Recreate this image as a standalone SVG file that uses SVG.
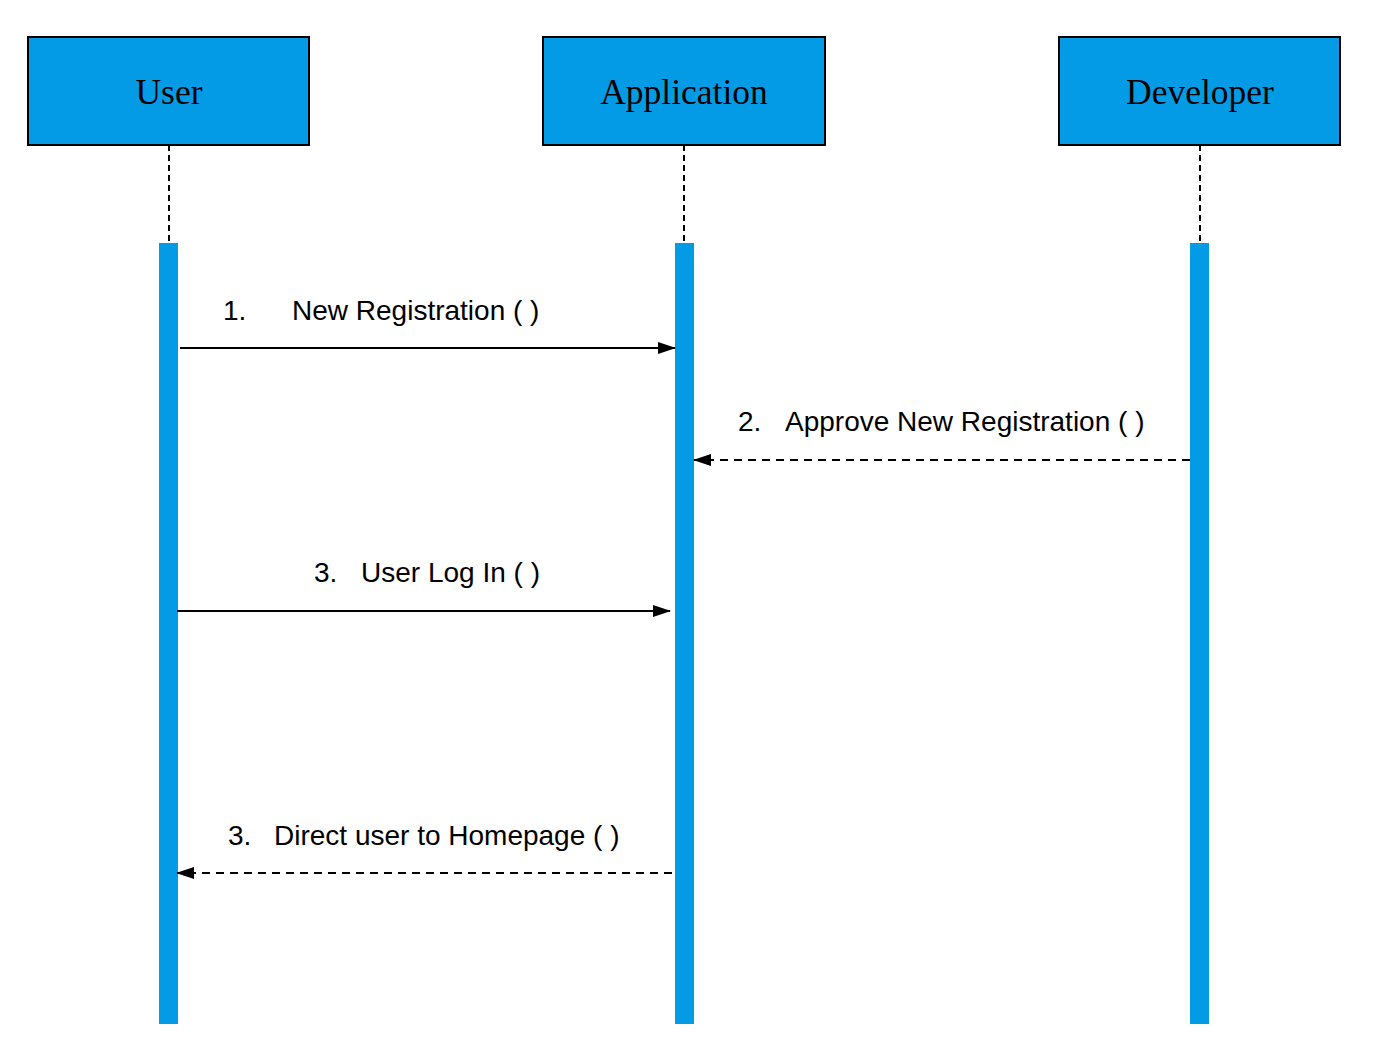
<svg xmlns="http://www.w3.org/2000/svg" width="1385" height="1050" viewBox="0 0 1385 1050">
<style>
.box{fill:#039BE5;stroke:#000;stroke-width:2}
.bar{fill:#039BE5}
.life{stroke:#000;stroke-width:2;stroke-dasharray:6,4;fill:none}
.head{font-family:"Liberation Serif",serif;font-size:35.5px;fill:#000;text-anchor:middle}
.lbl{font-family:"Liberation Sans",Arial,sans-serif;font-size:28px;fill:#000}
.msg{stroke:#000;stroke-width:2;fill:none}
.dash{stroke-dasharray:8,6}
</style>
<defs>
<marker id="ah" markerWidth="18" markerHeight="12" refX="17" refY="6" orient="auto" markerUnits="userSpaceOnUse">
<path d="M0,0 L18,6 L0,12 Z" fill="#000"/>
</marker>
</defs>
<rect width="1385" height="1050" fill="#fff"/>
<g id="user">
<rect class="box" x="28" y="37" width="281" height="108"/>
<text class="head" x="169" y="104">User</text>
<line class="life" x1="169" y1="145" x2="169" y2="243"/>
<rect class="bar" x="159" y="243" width="19" height="781"/>
</g>
<g id="application">
<rect class="box" x="543" y="37" width="282" height="108"/>
<text class="head" x="684" y="104">Application</text>
<line class="life" x1="684" y1="145" x2="684" y2="243"/>
<rect class="bar" x="675" y="243" width="19" height="781"/>
</g>
<g id="developer">
<rect class="box" x="1059" y="37" width="281" height="108"/>
<text class="head" x="1200" y="104">Developer</text>
<line class="life" x1="1200" y1="145" x2="1200" y2="243"/>
<rect class="bar" x="1190" y="243" width="19" height="781"/>
</g>
<g id="connectors">
<line class="msg" x1="180" y1="348" x2="675" y2="348" marker-end="url(#ah)"/>
<line class="msg dash" x1="1190" y1="460" x2="694" y2="460" marker-end="url(#ah)"/>
<line class="msg" x1="177" y1="611" x2="670" y2="611" marker-end="url(#ah)"/>
<line class="msg dash" x1="672" y1="873" x2="177" y2="873" marker-end="url(#ah)"/>
<text class="lbl" x="223" y="320">1.</text>
<text class="lbl" x="292" y="320">New Registration ( )</text>
<text class="lbl" x="738" y="431">2.</text>
<text class="lbl" x="785" y="431">Approve New Registration ( )</text>
<text class="lbl" x="314" y="582">3.</text>
<text class="lbl" x="361" y="582">User Log In ( )</text>
<text class="lbl" x="228" y="845">3.</text>
<text class="lbl" x="274" y="845">Direct user to Homepage ( )</text>
</g>
</svg>
